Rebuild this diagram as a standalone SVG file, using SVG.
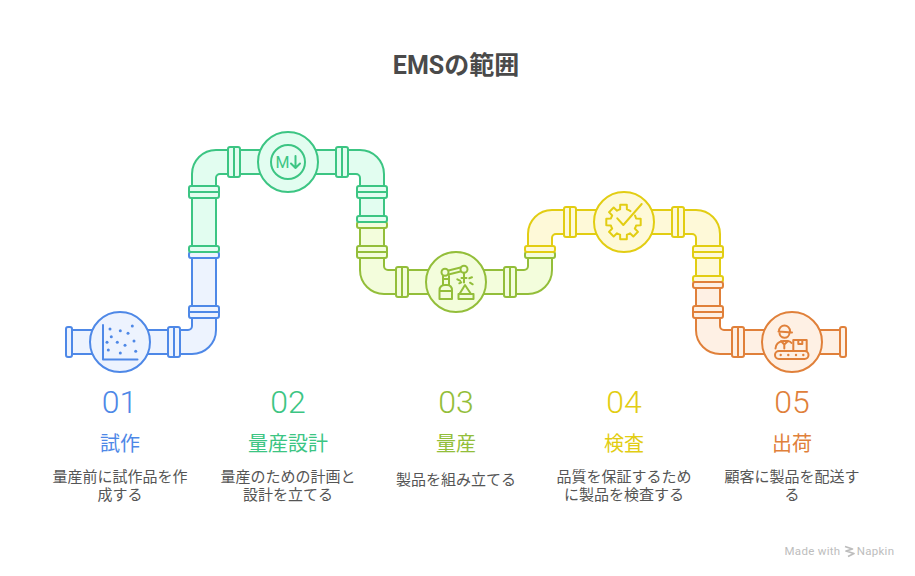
<svg xmlns="http://www.w3.org/2000/svg" width="915" height="576" viewBox="0 0 915 576">
<style>
text{font-family:Roboto,"Noto Sans CJK JP",sans-serif;text-anchor:middle}
.title{font-size:25px;font-weight:700;fill:#4a4a4a}
.num{font-size:32px;font-weight:300}
.lab{font-size:20px}
.desc{font-size:15px;fill:#555}
.s{stroke-width:2;stroke-linejoin:round;stroke-linecap:round}
.i{fill:none;stroke-width:2;stroke-linejoin:round;stroke-linecap:round}
.blue{stroke:#4e88e7;fill:#edf3fe}.green{stroke:#3cc583;fill:#e2fdf0}.lime{stroke:#93be3a;fill:#f3fddc}.yellow{stroke:#e2cd13;fill:#fef9d8}.orange{stroke:#e0803a;fill:#fef0e4}
.tb{fill:#4e88e7}.tg{fill:#3cc583}.tl{fill:#93be3a}.ty{fill:#e2cd13}.to{fill:#e0803a}
</style>
<defs>
<g id="fh"><rect x="-15" y="-6" width="30" height="12" rx="2"/><path d="M-15 0H15" fill="none"/></g>
<g id="fv"><rect x="-6" y="-15" width="12" height="30" rx="2"/><path d="M0 -15V15" fill="none"/></g>
</defs>
<text class="title" x="456" y="74">EMSの範囲</text>
<g id="pipes">
<g id="pipe-1" class="blue s">
<rect x="66" y="327" width="6" height="30" rx="2"/>
<path d="M72 330H188a4 4 0 0 0 4-4V252H216V330a24 24 0 0 1-24 24H72Z"/>
<use href="#fv" x="174" y="342"/>
<use href="#fh" x="204" y="312"/>
<rect x="189" y="252" width="30" height="6" rx="2"/>
</g>
<g id="pipe-2" class="green s">
<path d="M192 252V174a24 24 0 0 1 24-24H360a24 24 0 0 1 24 24V222H360V178a4 4 0 0 0-4-4H220a4 4 0 0 0-4 4V252Z"/>
<rect x="189" y="246" width="30" height="6" rx="2"/>
<use href="#fh" x="204" y="192"/>
<use href="#fv" x="234" y="162"/>
<use href="#fv" x="342" y="162"/>
<use href="#fh" x="372" y="192"/>
</g>
<g id="pipe-3" class="lime s">
<path d="M360 222V270a24 24 0 0 0 24 24H528a24 24 0 0 0 24-24V252H528V266a4 4 0 0 1-4 4H388a4 4 0 0 1-4-4V222Z"/>
<rect x="357" y="222" width="30" height="6" rx="2"/>
<use href="#fh" x="372" y="252"/>
<use href="#fv" x="402" y="282"/>
<use href="#fv" x="510" y="282"/>
<rect x="525" y="252" width="30" height="6" rx="2"/>
</g>
<g id="pipe-4" class="yellow s">
<path d="M528 252V234a24 24 0 0 1 24-24H696a24 24 0 0 1 24 24V282H696V238a4 4 0 0 0-4-4H556a4 4 0 0 0-4 4V252Z"/>
<rect x="525" y="246" width="30" height="6" rx="2"/>
<use href="#fv" x="570" y="222"/>
<use href="#fv" x="678" y="222"/>
<use href="#fh" x="708" y="252"/>
</g>
<g id="pipe-5" class="orange s">
<path d="M696 282V330a24 24 0 0 0 24 24H840V330H724a4 4 0 0 1-4-4V282Z"/>
<use href="#fh" x="708" y="312"/>
<use href="#fv" x="738" y="342"/>
<rect x="840" y="327" width="6" height="30" rx="2"/>
</g>
<g class="yellow s"><rect x="693" y="276" width="30" height="6" rx="2"/></g>
<g class="orange s"><rect x="693" y="282" width="30" height="6" rx="2"/></g>
<g class="green s"><rect x="357" y="216" width="30" height="6" rx="2"/></g>
</g>
<g id="node-1">
<circle class="blue s" cx="120" cy="342" r="30"/>
<path class="i blue" style="fill:none" d="M103 325V359.500H137.500"/>
<g class="tb"><circle cx="110" cy="329" r="1.500"/><circle cx="120.300" cy="330.700" r="1.500"/><circle cx="132.300" cy="326" r="1.500"/><circle cx="128" cy="333.300" r="1.500"/><circle cx="111.300" cy="336.700" r="1.500"/><circle cx="134" cy="341" r="1.500"/><circle cx="107" cy="342.300" r="1.500"/><circle cx="117.300" cy="342.300" r="1.500"/><circle cx="125" cy="345.300" r="1.500"/><circle cx="108.300" cy="350" r="1.500"/><circle cx="135.700" cy="351.300" r="1.500"/><circle cx="120.300" cy="353" r="1.500"/></g>
<text class="num tb" x="119.500" y="413">01</text>
<text class="lab tb" x="120" y="451">試作</text>
<text class="desc" x="120" y="482">量産前に試作品を作</text>
<text class="desc" x="120" y="500">成する</text>
</g>
<g id="node-2">
<circle class="green s" cx="288" cy="162" r="30"/>
<circle class="i green" style="fill:none" cx="288" cy="162" r="17"/>
<text class="tg" x="282.500" y="168" style="font-size:16px">M</text>
<path class="i green" style="fill:none" d="M295.500 156V168M291 163.500L295.500 168L300 163.500"/>
<text class="num tg" x="288" y="413">02</text>
<text class="lab tg" x="288" y="451">量産設計</text>
<text class="desc" x="288" y="482">量産のための計画と</text>
<text class="desc" x="288" y="500">設計を立てる</text>
</g>
<g id="node-3">
<circle class="lime s" cx="456" cy="282" r="30"/>
<g class="i lime" style="fill:none">
<circle cx="445" cy="272.300" r="3.500"/><circle cx="464" cy="269.300" r="3.500"/>
<path d="M448.500 270.500L460.500 267.500M448.500 274.500L460.500 271.500"/>
<path d="M443 276V285M449 276V285M443 279H449"/>
<path d="M439.500 299V290.500Q439.500 285 445 285H447Q452 285 452 290.500V299ZM439.500 291H452"/>
<path d="M464 273V282.500M461.500 278H466.500"/>
<path d="M465 285L459.500 294H471Z"/>
<rect x="458.500" y="294" width="15" height="5"/>
<path d="M457.300 279.300L460 280.700M459.300 283.300L461.300 282.300M469.300 278.300L472 277.300M470 282.700L472.700 284.300"/>
</g>
<text class="num tl" x="456" y="413">03</text>
<text class="lab tl" x="456" y="451">量産</text>
<text class="desc" x="456" y="485">製品を組み立てる</text>
</g>
<g id="node-4">
<circle class="yellow s" cx="624" cy="222" r="30"/>
<g class="i yellow" style="fill:none">
<path transform="translate(623.500 222)" d="M7 -10.900A13 13 0 0 0 3.400 -12.600L3.300 -17.200H-3.300L-3.400 -12.600A13 13 0 0 0 -6.510 -11.310L-9.830 -14.500L-14.500 -9.830L-11.310 -6.510A13 13 0 0 0 -12.600 -3.400L-17.200 -3.300V3.300L-12.600 3.400A13 13 0 0 0 -11.310 6.510L-14.500 9.830L-9.830 14.500L-6.510 11.310A13 13 0 0 0 -3.400 12.600L-3.300 17.200H3.300L3.400 12.600A13 13 0 0 0 6.510 11.310L9.830 14.500L14.500 9.830L11.310 6.510A13 13 0 0 0 12.600 3.400L17.200 3.300V-3.300L12.600 -3.400A13 13 0 0 0 11.500 -6.500"/>
<path d="M617.300 218.300L623.300 225L641.700 204"/>
</g>
<text class="num ty" x="624" y="413">04</text>
<text class="lab ty" x="624" y="451">検査</text>
<text class="desc" x="624" y="482">品質を保証するため</text>
<text class="desc" x="624" y="500">に製品を検査する</text>
</g>
<g id="node-5">
<circle class="orange s" cx="792" cy="342" r="30"/>
<g class="i orange" style="fill:none">
<path d="M779 331.500V331A5.500 5.500 0 0 1 790 331V332.500M778.500 331.500L792 332.500M779.500 332.500A5 5 0 0 0 789.500 333"/>
<path d="M775.500 348.500Q776 342 783 341H788Q790.500 341.500 791.500 343M781 341L784.300 344.500L788 341M784.300 344.500V348.500"/>
<rect x="775" y="351" width="33.500" height="8" rx="4"/>
<rect x="793.300" y="340" width="13.400" height="11"/>
<path d="M798.300 340V344H802.300V340"/>
</g>
<g class="to"><circle cx="780.700" cy="355" r="1.200"/><circle cx="788.300" cy="355" r="1.200"/><circle cx="796" cy="355" r="1.200"/><circle cx="803.300" cy="355" r="1.200"/></g>
<text class="num to" x="792" y="413">05</text>
<text class="lab to" x="792" y="451">出荷</text>
<text class="desc" x="792" y="482">顧客に製品を配送す</text>
<text class="desc" x="792" y="500">る</text>
</g>
<g id="footer">
<text x="812.500" y="555" style="font-size:11.500px;fill:#bdbdbd;letter-spacing:.3px">Made with</text>
<path d="M845 546.500L852.500 549L846 551L854 553.500L848 556.500" fill="none" stroke="#bdbdbd" stroke-width="1.800" stroke-linejoin="round"/>
<text x="875.500" y="555" style="font-size:11.500px;fill:#bdbdbd;letter-spacing:.3px">Napkin</text>
</g>
</svg>
